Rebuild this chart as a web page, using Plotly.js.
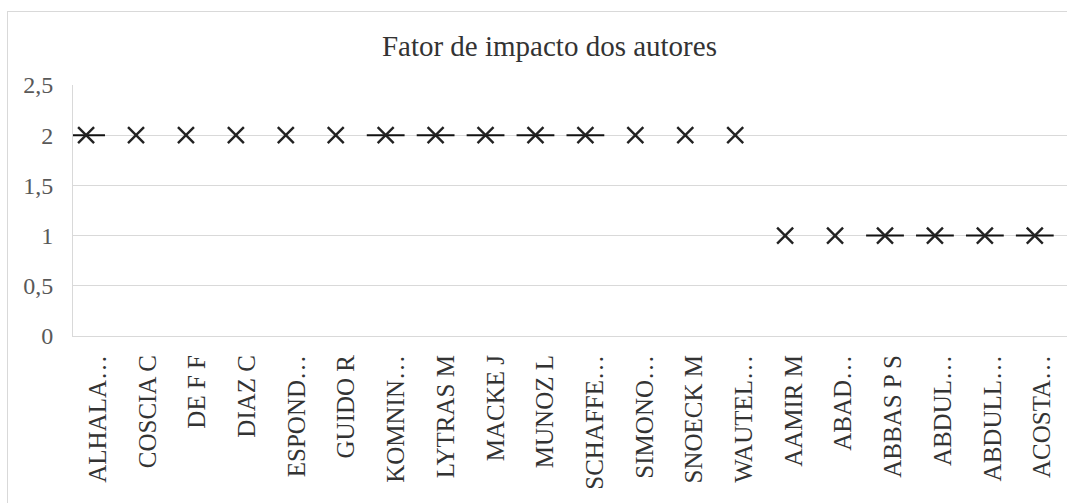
<!DOCTYPE html>
<html>
<head>
<meta charset="utf-8">
<script src="https://cdn.plot.ly/plotly-3.0.1.min.js"></script>
<style>
html,body{margin:0;padding:0;background:#fff;overflow:hidden;}
#frame{position:absolute;left:7px;top:11px;width:1070px;height:500px;border:1px solid #d9d9d9;}
#chart{width:1070px;height:500px;}
</style>
</head>
<body>
<div id="frame"><div id="chart"></div></div>
<script>
const authors = ["ALHALA…","COSCIA C","DE F F","DIAZ C","ESPOND…","GUIDO R","KOMNIN…","LYTRAS M","MACKE J","MUNOZ L","SCHAFFE…","SIMONO…","SNOECK M","WAUTEL…","AAMIR M","ABAD…","ABBAS P S","ABDUL…","ABDULL…","ACOSTA…"];
const impactFactor = [2,2,2,2,2,2,2,2,2,2,2,2,2,2,1,1,1,1,1,1];
const dashValues = [2,null,null,null,null,null,2,2,2,2,2,null,null,null,null,null,1,1,1,1];
const yTicks = [0,0.5,1,1.5,2,2.5];
const yTickText = ["0","0,5","1","1,5","2","2,5"];
const chartTitle = "Fator de impacto dos autores";

const serif = "'Liberation Serif', 'Times New Roman', serif";

const traces = [
  {
    x: authors, y: dashValues, type: "scatter", mode: "markers",
    xaxis: "x2", yaxis: "y",
    marker: {symbol: "line-ew", size: 27, line: {color: "#111", width: 2}},
    hoverinfo: "skip", showlegend: false
  },
  {
    x: authors, y: impactFactor, type: "scatter", mode: "markers",
    xaxis: "x2", yaxis: "y",
    marker: {symbol: "x-thin", size: 16, line: {color: "#222", width: 2.4}},
    showlegend: false
  },
  {
    x: authors, y: impactFactor, type: "scatter", mode: "markers",
    xaxis: "x", yaxis: "y",
    marker: {opacity: 0}, hoverinfo: "skip", showlegend: false
  }
];

const layout = {
  width: 1070, height: 500,
  margin: {l: 65, r: 11, t: 73, b: 176},
  paper_bgcolor: "#fff", plot_bgcolor: "#fff",
  separators: ",.",
  font: {family: serif},
  title: {
    text: chartTitle,
    font: {family: serif, size: 29, color: "#333"},
    x: 0.506, xref: "container", xanchor: "center",
    y: 0.932, yref: "container", yanchor: "middle"
  },
  xaxis: {
    type: "category", categoryorder: "array", categoryarray: authors,
    range: [-0.5, 19.5],
    tickangle: -90, showgrid: false, zeroline: false,
    showline: true, linecolor: "#d9d9d9", linewidth: 1,
    ticks: "", ticklabelstandoff: 8,
    tickfont: {family: serif, size: 25, color: "#333"},
    fixedrange: true
  },
  xaxis2: {
    type: "category", categoryorder: "array", categoryarray: authors,
    overlaying: "x", range: [-0.262, 19.645],
    visible: false, fixedrange: true
  },
  yaxis: {
    range: [0, 2.5], tickvals: yTicks, ticktext: yTickText,
    showgrid: true, gridcolor: "#d9d9d9", gridwidth: 1,
    zeroline: false, showline: true, linecolor: "#d9d9d9", linewidth: 1,
    ticks: "", ticklabelstandoff: 14,
    tickfont: {family: serif, size: 24, color: "#595959"},
    fixedrange: true
  }
};

Plotly.newPlot("chart", traces, layout, {displayModeBar: false, staticPlot: true});
</script>
</body>
</html>
